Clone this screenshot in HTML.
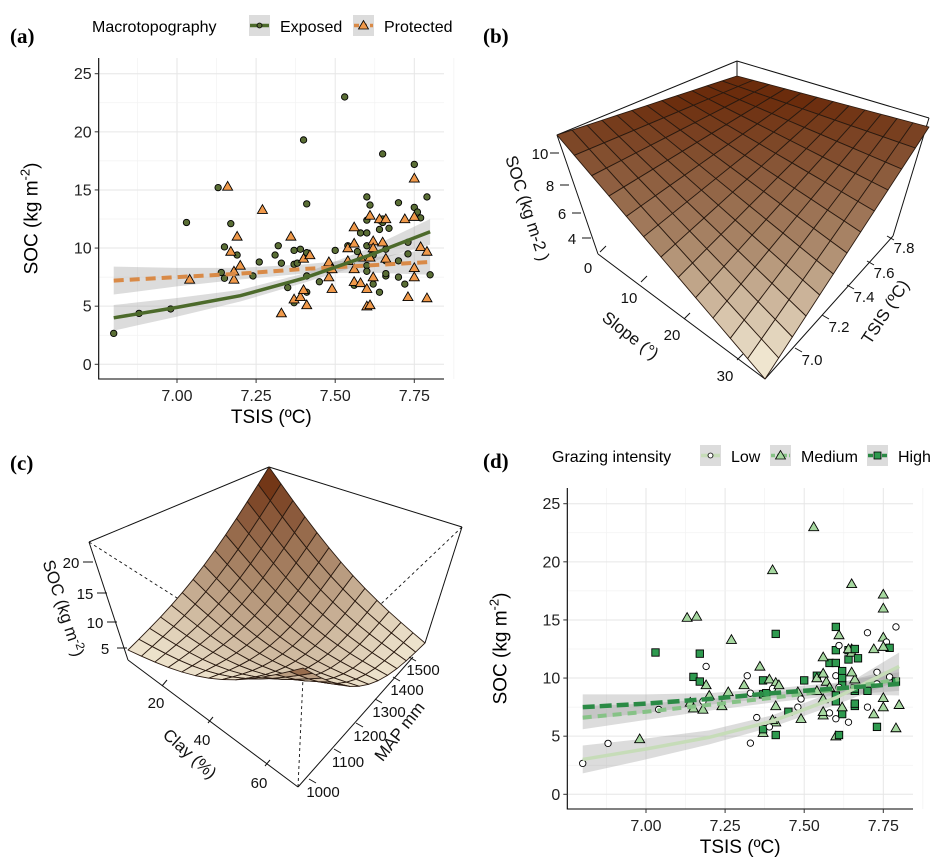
<!DOCTYPE html>
<html><head><meta charset="utf-8">
<style>
html,body{margin:0;padding:0;background:#fff;}
svg{display:block;font-family:"Liberation Sans",sans-serif;}
.pl{font-family:"Liberation Serif",serif;font-weight:bold;font-size:21px;}
</style></head>
<body>
<svg id="fig" width="944" height="868" viewBox="0 0 944 868">
<g id="panelA"></g>
<g id="panelB"></g>
<g id="panelC"></g>
<g id="panelD"></g>
<text class="pl" x="10" y="43">(a)</text>
<text class="pl" x="483" y="43">(b)</text>
<text class="pl" x="10" y="470">(c)</text>
<text class="pl" x="483" y="468">(d)</text>
</svg>
<script>
// ---- data ----
const tsis = [6.80,6.88,6.98,7.03,7.13,7.15,7.14,7.15,7.17,7.19,7.24,7.26,7.32,7.31,7.33,7.35,7.37,7.37,7.37,7.38,7.39,7.40,7.41,7.41,7.41,7.41,7.45,7.50,7.53,7.54,7.57,7.56,7.58,7.60,7.60,7.60,7.61,7.60,7.60,7.60,7.62,7.62,7.64,7.64,7.64,7.65,7.65,7.65,7.66,7.66,7.66,7.67,7.66,7.70,7.70,7.70,7.72,7.73,7.73,7.75,7.75,7.76,7.77,7.79,7.80,
 7.04,7.16,7.17,7.18,7.18,7.19,7.20,7.27,7.33,7.36,7.37,7.39,7.40,7.40,7.41,7.42,7.48,7.48,7.49,7.49,7.54,7.54,7.56,7.56,7.56,7.56,7.58,7.58,7.60,7.61,7.60,7.61,7.61,7.62,7.62,7.62,7.64,7.65,7.66,7.66,7.72,7.73,7.75,7.75,7.75,7.75,7.77,7.79,7.79];
const soc = [2.66,4.38,4.76,12.2,15.2,10.1,7.9,7.4,12.1,9.4,7.6,8.8,10.2,9.4,8.7,6.6,9.8,5.3,8.6,8.7,9.9,19.3,9.6,7.6,6.2,13.8,7.1,9.8,23.0,10.2,9.7,6.8,11.3,14.4,12.4,11.3,13.7,10.2,8.5,8.0,6.9,9.4,6.2,12.4,11.6,18.1,12.2,12.5,7.6,7.8,9.9,11.7,8.9,13.9,7.5,8.9,6.9,10.5,9.5,17.2,13.5,13.1,12.6,14.4,7.7,
 7.3,15.3,9.7,8.0,7.3,11.0,8.5,13.3,4.4,11.0,5.6,5.8,9.1,6.4,5.1,9.4,8.8,7.5,6.5,8.2,10.0,8.9,11.8,10.4,8.2,7.1,7.0,9.2,5.0,5.1,6.5,9.2,12.8,10.6,10.0,7.5,12.5,10.5,12.5,9.1,12.5,5.8,16.0,12.7,8.3,7.5,10.1,9.7,5.7];
const topo = "EEEEEEEEEEEEEEEEEEEEEEEEEEEEEEEEEEEEEEEEEEEEEEEEEEEEEEEEEEEEEEEEE"+"PPPPPPPPPPPPPPPPPPPPPPPPPPPPPPPPPPPPPPPPPPPPPPPPP";
const graz = "LLMHMHMMHMMMLMLLHMHHMMMMMHHHMHMMHHHHMLHHHHLHHMMMHHMHHLLHMLLMMLHLM"+"LMHLMLMMLMHLLMHMMLMLMMMMMMLMMHLLLHHMMMHHMHMMMMLHM";
// fitted curves
const fitX = [6.8,7.0,7.2,7.4,7.6,7.8];
const fitExposed = [4.0,4.9,5.9,7.4,9.3,11.4];
const ciExposed = [1.1,0.8,0.5,0.4,0.6,1.1];
const fitProtected = [7.2,7.5,7.8,8.2,8.5,8.8];
const ciProtected = [1.2,0.8,0.5,0.4,0.6,1.1];
const fitLow = [3.0,3.9,4.9,6.3,8.3,11.0];
const ciLow = [1.2,0.9,0.6,0.5,0.6,1.2];
const fitMed = [6.6,7.1,7.7,8.3,9.0,9.9];
const ciMed = [1.0,0.7,0.5,0.4,0.5,1.0];
const fitHigh = [7.5,7.8,8.2,8.7,9.1,9.5];
const ciHigh = [1.1,0.8,0.5,0.4,0.5,1.0];
const xTicks = [7.00,7.25,7.50,7.75];
const xTickLabels = ["7.00","7.25","7.50","7.75"];
const yTicks = [0,5,10,15,20,25];

const NS="http://www.w3.org/2000/svg";
function mk(tag,attrs,parent){const e=document.createElementNS(NS,tag);for(const k in attrs)e.setAttribute(k,attrs[k]);if(parent)parent.appendChild(e);return e;}

function scatter(g, o){
  const sx=v=>o.x0+(v-7)*(o.x1-o.x0)/0.75;
  const sy=v=>o.y0-v*(o.y0-o.y25)/25;
  for(let v=6.875;v<7.9;v+=0.125){const major=Math.abs((v-7)/0.25-Math.round((v-7)/0.25))<1e-6;
    const l=mk('line',{x1:sx(v),x2:sx(v),y1:o.top,y2:o.bottom,stroke:major?'#e6e6e6':'#f2f2f2','stroke-width':major?1:0.7},g);
    }
  for(let v=-2.5;v<=26;v+=2.5){const major=v%5===0;const y=sy(v);if(y<o.top||y>o.bottom)continue;
    const l=mk('line',{x1:o.left,x2:o.right,y1:y,y2:y,stroke:major?'#e6e6e6':'#f2f2f2','stroke-width':major?1:0.7},g);
    }
  o.series.forEach(s=>{
    let up=fitX.map((x,i)=>sx(x)+','+sy(s.fit[i]+s.ci[i]));
    let dn=fitX.map((x,i)=>sx(x)+','+sy(s.fit[i]-s.ci[i])).reverse();
    const b=mk('polygon',{points:up.concat(dn).join(' '),fill:'#9a9a9a','fill-opacity':0.35},g);
    
  });
  tsis.forEach((x,i)=>{
    const key=o.groupOf(i);const st=o.styles[key];const cx=sx(tsis[i]),cy=sy(soc[i]);let e;
    if(st.shape==='c'){e=mk('circle',{cx:cx,cy:cy,r:3.2,fill:st.fill,stroke:'#000','stroke-width':0.9},g);}
    else if(st.shape==='t'){e=mk('polygon',{points:`${cx},${cy-5} ${cx-5},${cy+3.7} ${cx+5},${cy+3.7}`,fill:st.fill,stroke:'#000','stroke-width':0.9},g);}
    else {e=mk('rect',{x:cx-3.7,y:cy-3.7,width:7.4,height:7.4,fill:st.fill,stroke:'#000','stroke-width':0.9},g);}
    
  });
  o.series.forEach(s=>{
    const p=mk('polyline',{points:fitX.map((x,i)=>sx(x)+','+sy(s.fit[i])).join(' '),fill:'none',stroke:s.color,'stroke-width':s.w,'stroke-dasharray':s.dash||'none'},g);
    
  });
  let a=mk('line',{x1:o.left,x2:o.left,y1:o.top,y2:o.bottom+0.5,stroke:'#000','stroke-width':1.1},g);
  
  a=mk('line',{x1:o.left,x2:o.right,y1:o.bottom,y2:o.bottom,stroke:'#000','stroke-width':1.1},g);
  
  yTicks.forEach(v=>{const y=sy(v);mk('line',{x1:o.left-4,x2:o.left,y1:y,y2:y,stroke:'#333'},g);
    const t=mk('text',{x:o.left-7,y:y+5.5,'text-anchor':'end','font-size':16,fill:'#222'},g);t.textContent=v;
    });
  xTicks.forEach((v,i)=>{const x=sx(v);mk('line',{x1:x,x2:x,y1:o.bottom,y2:o.bottom+4,stroke:'#333'},g);
    const t=mk('text',{x:x,y:o.bottom+22,'text-anchor':'middle','font-size':16,fill:'#222'},g);t.textContent=xTickLabels[i];
    });
  let t=mk('text',{x:(o.left+o.right)/2,y:o.bottom+44,'text-anchor':'middle','font-size':19,fill:'#000'},g);t.textContent='TSIS (ºC)';
  
  t=mk('text',{transform:`translate(${o.left-61},${(o.top+o.bottom)/2}) rotate(-90)`,'text-anchor':'middle','font-size':19,fill:'#000'},g);
  t.innerHTML='SOC (kg m<tspan dy="-8" font-size="13">-2</tspan><tspan dy="8">)</tspan>';
  
  const L=o.legend;
  t=mk('text',{x:L.x,y:L.y,'font-size':16,fill:'#000'},g);t.textContent=L.title;
  
  L.items.forEach(it=>{
    const kg=mk('g',{},g);
    mk('rect',{x:it.kx,y:L.y-17,width:21,height:21,fill:'#dcdcdc'},kg);
    mk('line',{x1:it.kx+1,x2:it.kx+20,y1:L.y-6.5,y2:L.y-6.5,stroke:it.color,'stroke-width':it.w,'stroke-dasharray':it.dash||'none'},kg);
    const cx=it.kx+10.5,cy=L.y-6.5;
    if(it.shape==='c')mk('circle',{cx:cx,cy:cy,r:2.5,fill:it.fill,stroke:'#000','stroke-width':0.8},kg);
    else if(it.shape==='t')mk('polygon',{points:`${cx},${cy-5} ${cx-5},${cy+3.5} ${cx+5},${cy+3.5}`,fill:it.fill,stroke:'#000','stroke-width':0.8},kg);
    else mk('rect',{x:cx-3.5,y:cy-3.5,width:7,height:7,fill:it.fill,stroke:'#000','stroke-width':0.8},kg);
    const tt=mk('text',{x:it.kx+31,y:L.y,'font-size':16,fill:'#000'},kg);tt.textContent=it.label;
  });
}

scatter(document.getElementById('panelA'),{
  x0:177,x1:414.3,y0:364.3,y25:73.7,left:98.7,right:444,top:58,bottom:379,
  groupOf:i=>topo[i],
  styles:{E:{shape:'c',fill:'#5a6e35'},P:{shape:'t',fill:'#f0994a'}},
  series:[{name:'protected',fit:fitProtected,ci:ciProtected,color:'#d98a47',w:4,dash:'10 6'},
          {name:'exposed',fit:fitExposed,ci:ciExposed,color:'#4c6a2b',w:3.5}],
  legend:{title:'Macrotopography',x:92,y:32,items:[
    {kx:249,label:'Exposed',shape:'c',fill:'#5a6e35',color:'#4c6a2b',w:3.5},
    {kx:353,label:'Protected',shape:'t',fill:'#f0994a',color:'#d98a47',w:3.5,dash:'5 3'}]}
});
scatter(document.getElementById('panelD'),{
  x0:646,x1:883.3,y0:794.3,y25:503.7,left:567.3,right:913,top:488,bottom:809,
  groupOf:i=>graz[i],
  styles:{L:{shape:'c',fill:'#ffffff'},M:{shape:'t',fill:'#a6d8a0'},H:{shape:'s',fill:'#2e9a4f'}},
  series:[{name:'low',fit:fitLow,ci:ciLow,color:'#c6dcb8',w:3.5},
          {name:'medium',fit:fitMed,ci:ciMed,color:'#86c286',w:4,dash:'9 6'},
          {name:'high',fit:fitHigh,ci:ciHigh,color:'#2b8a45',w:4.5,dash:'12 5'}],
  legend:{title:'Grazing intensity',x:552,y:462,items:[
    {kx:700,label:'Low',shape:'c',fill:'#fff',color:'#c6dcb8',w:3.5},
    {kx:770,label:'Medium',shape:'t',fill:'#a6d8a0',color:'#86c286',w:3.5,dash:'4 2'},
    {kx:867,label:'High',shape:'s',fill:'#2e9a4f',color:'#2b8a45',w:3.5,dash:'5 2'}]}
});

// ---- 3D surfaces ----
function lerpC(a,b,t){return a.map((v,i)=>Math.round(v+(b[i]-v)*t));}
function ramp(t){t=Math.max(0,Math.min(1,t));const d=[107,44,12],m=[168,132,102],l=[252,247,226];
  const c=t<0.5?lerpC(d,m,t/0.5):lerpC(m,l,(t-0.5)/0.5);return `rgb(${c[0]},${c[1]},${c[2]})`;}
function surface(g,C,n,sag,colorOf){
  const P=(u,v)=>{const x=(1-u)*(1-v)*C.L[0]+u*(1-v)*C.B[0]+u*v*C.R[0]+(1-u)*v*C.F[0];
    const y=(1-u)*(1-v)*C.L[1]+u*(1-v)*C.B[1]+u*v*C.R[1]+(1-u)*v*C.F[1]+sag(u,v);return [x,y];};
  const cells=[];
  for(let i=0;i<n;i++)for(let j=0;j<n;j++){cells.push([i/n,(i+1)/n,j/n,(j+1)/n]);}
  cells.sort((a,b)=>((a[2]-a[0])-(b[2]-b[0])));
  cells.forEach(c=>{const p=[P(c[0],c[2]),P(c[1],c[2]),P(c[1],c[3]),P(c[0],c[3])];
    const cu=(c[0]+c[1])/2,cv=(c[2]+c[3])/2,cp=P(cu,cv);
    const e=mk('polygon',{points:p.map(q=>q.join(',')).join(' '),fill:colorOf(cu,cv,cp),stroke:'#2a1a10','stroke-width':0.9,'stroke-linejoin':'round'},g);
    });
}
function lines(g,segs,dash,name){segs.forEach(s=>{const l=mk('line',{x1:s[0],y1:s[1],x2:s[2],y2:s[3],stroke:'#111','stroke-width':dash?0.9:1,'stroke-dasharray':dash?'3 3':'none'},g);
  });}
function label(g,txt,x,y,rot,size,name){const t=mk('text',{transform:`translate(${x},${y}) rotate(${rot})`,'text-anchor':'middle','font-size':size,fill:'#111'},g);t.textContent=txt;
  return t;}

(function(){
  const g=document.getElementById('panelB');
  lines(g,[[557,135,737,61],[737,61,929,118],[737,61,737,76],[557,135,598,254],[929,118,893,236],[598,254,765,379],[765,379,893,236]],false,'box-edge');
  lines(g,[[765,379,773,260],[773,260,563,137],[773,260,927,125]],true,'hidden-box-edge');
  surface(g,{L:[557,135],B:[737,76],R:[929,127],F:[765,379]},12,()=>0,(u,v,p)=>ramp((p[1]-100)/280));
  const slopeT=[[0,588,268],[10,629,298],[20,672,335],[30,725,376]];
  slopeT.forEach(s=>{mk('line',{x1:s[1]+12,y1:s[2]-16,x2:s[1]+18,y2:s[2]-22,stroke:'#111'},g);label(g,s[0],s[1],s[2]+5,0,15,'slope-tick-label');});
  const tsisT=[["7.0",810,360],["7.2",837,327],["7.4",862,297],["7.6",882,273],["7.8",902,248]];
  tsisT.forEach(s=>{mk('line',{x1:s[1]-15,y1:s[2]-12,x2:s[1]-8,y2:s[2]-8,stroke:'#111'},g);label(g,s[0],s[1]+2,s[2]+5,0,15,'tsis-tick-label');});
  const socT=[[10,540,154],[8,550,186],[6,562,214],[4,572,239]];
  socT.forEach(s=>{mk('line',{x1:s[1]+10,y1:s[2]-1,x2:s[1]+19,y2:s[2]-1,stroke:'#111'},g);label(g,s[0],s[1],s[2]+5,0,15,'soc-tick-label');});
  label(g,'Slope (°)',627,340,38,17,'slope-axis-title');
  label(g,'TSIS (ºC)',890,315,-57,17,'tsis-axis-title');
  label(g,'SOC (kg m-2 )',522,210,72,17,'z-axis-title');
})();

(function(){
  const g=document.getElementById('panelC');
  lines(g,[[89,542,269,467],[269,467,462,527],[89,542,128,660],[462,527,425,643],[128,660,298,787],[298,787,413,657]],false,'box-edge');
  lines(g,[[89,542,303,678],[462,527,303,678],[298,787,303,678]],true,'hidden-box-edge');
  const s=Math.PI;
  surface(g,{L:[128,650],B:[269,467],R:[425,643],F:[303,668]},13,
    (u,v)=>(1-v)*14*Math.sin(s*u)+v*30*Math.sin(s*u)+(1-u)*20*Math.sin(s*v)+u*14*Math.sin(s*v),
    (u,v)=>{const z=0.08+0.92*Math.pow(u*(1-v),1.6)+0.9*Math.pow((1-u)*v,7)+0.1*Math.sin(s*u)*Math.sin(s*v);return ramp(1-z*1.05);});
  const clayT=[[20,156,703],[40,202,740],[60,259,783]];
  clayT.forEach(q=>{mk('line',{x1:q[1]+6,y1:q[2]-17,x2:q[1]+11,y2:q[2]-23,stroke:'#111'},g);label(g,q[0],q[1],q[2]+5,0,15,'clay-tick-label');});
  const mapT=[[1000,320,792],[1100,345,762],[1200,367,736],[1300,386,712],[1400,404,690],[1500,420,670]];
  mapT.forEach(q=>{mk('line',{x1:q[1]-11,y1:q[2]-13,x2:q[1]-4,y2:q[2]-9,stroke:'#111'},g);label(g,q[0],q[1]+3,q[2]+5,0,15,'map-tick-label');});
  const socT=[[20,71,563],[15,85,594],[10,95,623],[5,105,649]];
  socT.forEach(q=>{mk('line',{x1:q[1]+12,y1:q[2]-1,x2:q[1]+22,y2:q[2]-1,stroke:'#111'},g);label(g,q[0],q[1],q[2]+5,0,15,'soc-tick-label');});
  label(g,'Clay (%)',186,758,42,17,'clay-axis-title');
  label(g,'MAP mm',404,735,-52,17,'map-axis-title');
  const t=label(g,'',58,610,72,17,'z-axis-title');t.innerHTML='SOC (kg m<tspan dy="-6" font-size="12">-2</tspan><tspan dy="6">)</tspan>';
})();
</script>
</body></html>
